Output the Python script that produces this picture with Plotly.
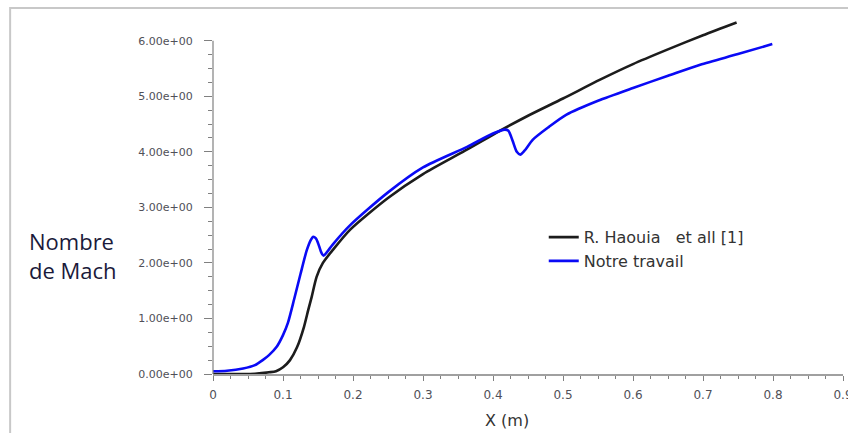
import plotly.graph_objects as go

# Data
x_haouia = [0.0, 0.02, 0.04, 0.06, 0.08, 0.09, 0.10, 0.11, 0.12, 0.13, 0.136, 0.141, 0.148,
            0.157, 0.171, 0.196, 0.25, 0.30, 0.36, 0.41, 0.45, 0.50, 0.553, 0.60, 0.649, 0.70, 0.748]
y_haouia = [0.0, 0.0, 0.0, 0.005, 0.03, 0.05, 0.12, 0.25, 0.48, 0.85, 1.15, 1.39, 1.75,
            2.0, 2.23, 2.6, 3.17, 3.6, 4.02, 4.38, 4.65, 4.96, 5.30, 5.58, 5.84, 6.1, 6.33]

x_notre = [0.0, 0.02, 0.043, 0.06, 0.071, 0.08, 0.091, 0.10, 0.107, 0.116, 0.125, 0.134, 0.14,
           0.143, 0.147, 0.15, 0.155, 0.158, 0.163, 0.171, 0.196, 0.25, 0.30, 0.363, 0.40,
           0.417, 0.422, 0.428, 0.434, 0.439, 0.445, 0.457, 0.48, 0.505, 0.55, 0.60, 0.65,
           0.696, 0.75, 0.799]
y_notre = [0.05, 0.06, 0.1, 0.16, 0.25, 0.34, 0.49, 0.7, 0.92, 1.35, 1.8, 2.23, 2.42,
           2.47, 2.44, 2.36, 2.18, 2.13, 2.2, 2.33, 2.68, 3.27, 3.72, 4.09, 4.33,
           4.40, 4.38, 4.2, 4.0, 3.95, 4.02, 4.22, 4.45, 4.67, 4.92, 5.15, 5.37,
           5.57, 5.76, 5.94]

y_tickvals = [0, 1, 2, 3, 4, 5, 6]
y_ticktext = ["0.00e+00", "1.00e+00", "2.00e+00", "3.00e+00", "4.00e+00", "5.00e+00", "6.00e+00"]
x_tickvals = [0, 0.1, 0.2, 0.3, 0.4, 0.5, 0.6, 0.7, 0.8, 0.9]
x_ticktext = ["0", "0.1", "0.2", "0.3", "0.4", "0.5", "0.6", "0.7", "0.8", "0.9"]

FONT = "DejaVu Sans, Arial, sans-serif"

fig = go.Figure()
fig.add_trace(go.Scatter(x=x_haouia, y=y_haouia, mode="lines",
                         name="R. Haouia   et all [1]",
                         line=dict(color="#1c1c1c", width=2.6, shape="spline", smoothing=0.7)))
fig.add_trace(go.Scatter(x=x_notre, y=y_notre, mode="lines",
                         name="Notre travail",
                         line=dict(color="#0a0af5", width=2.6, shape="spline", smoothing=0.7)))

fig.update_layout(
    width=848, height=433,
    margin=dict(l=213, r=5, t=13, b=59),
    paper_bgcolor="white", plot_bgcolor="white",
    font=dict(family=FONT, color="#333333"),
    showlegend=True,
    legend=dict(x=0.525, y=0.426, xanchor="left", yanchor="top",
                bgcolor="rgba(0,0,0,0)", font=dict(size=16, color="#333333"),
                tracegroupgap=0, itemwidth=30),
    xaxis=dict(range=[0, 0.9], tickvals=x_tickvals, ticktext=x_ticktext,
               showgrid=False, zeroline=False, showline=True, linecolor="#a0a0a0", linewidth=2,
               ticks="outside", ticklen=5, tickcolor="#808080", automargin=False,
               tickfont=dict(family=FONT, size=12, color="#505058"),
               ticklabeloverflow="allow", ticklabelstandoff=4,
               minor=dict(tickvals=[i * 0.025 for i in range(37)], ticks="outside",
                          ticklen=3, tickcolor="#808080")),
    yaxis=dict(range=[0, 6.5], tickvals=y_tickvals, ticktext=y_ticktext,
               showgrid=False, zeroline=False, showline=False, automargin=False,
               ticks="outside", ticklen=8, tickcolor="#808080",
               tickfont=dict(family=FONT, size=11, color="#505058"),
               ticklabelstandoff=9,
               minor=dict(tickvals=[i * 0.25 for i in range(25)], ticks="outside",
                          ticklen=4, tickcolor="#808080")),
)

# y-axis line from 0 to 6
fig.add_shape(type="line", xref="paper", yref="y", x0=0, x1=0, y0=0, y1=6,
              line=dict(color="#808080", width=1.2))
# outer frame
fig.add_shape(type="rect", xref="paper", yref="paper", x0=-0.322, x1=1.05, y0=-0.3, y1=1.014,
              line=dict(color="#c8c8c8", width=2), layer="below")

fig.add_annotation(xref="paper", yref="paper", x=-0.296, y=0.327, xanchor="left", yanchor="middle",
                   text="Nombre<br>de Mach", showarrow=False, align="left",
                   font=dict(family="Open Sans, sans-serif", size=22, color="#1a1a3a"))
fig.add_annotation(xref="paper", yref="paper", x=0.467, y=-0.13, xanchor="center", yanchor="middle",
                   text="X (m)", showarrow=False,
                   font=dict(family=FONT, size=16, color="#333333"))

fig.write_html("out.html")
